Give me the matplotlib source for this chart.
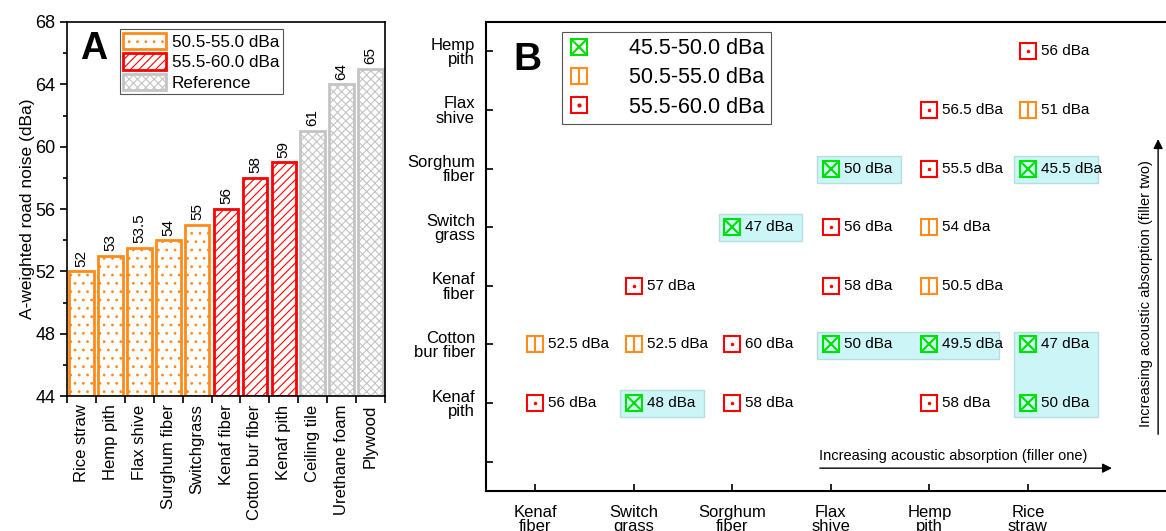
import matplotlib
matplotlib.use("Agg")
import matplotlib.pyplot as plt
from matplotlib.patches import Patch, Rectangle
from matplotlib.lines import Line2D
from matplotlib.legend_handler import HandlerTuple

plt.rcParams['font.family'] = ['Liberation Sans', 'DejaVu Sans']
plt.rcParams['hatch.linewidth'] = 0.8

# --- panel A data ---
materials = ["Rice straw", "Hemp pith", "Flax shive", "Surghum fiber", "Switchgrass",
             "Kenaf fiber", "Cotton bur fiber", "Kenaf pith", "Ceiling tile",
             "Urethane foam", "Plywood"]
noise = [52, 53, 53.5, 54, 55, 56, 58, 59, 61, 64, 65]
noise_labels = ["52", "53", "53.5", "54", "55", "56", "58", "59", "61", "64", "65"]
groups = ["mid", "mid", "mid", "mid", "mid", "high", "high", "high", "ref", "ref", "ref"]

# --- panel B data ---
filler_one = ["Kenaf\nfiber", "Switch\ngrass", "Sorghum\nfiber", "Flax\nshive", "Hemp\npith", "Rice\nstraw"]
filler_two = ["", "Kenaf\npith", "Cotton\nbur fiber", "Kenaf\nfiber", "Switch\ngrass",
              "Sorghum\nfiber", "Flax\nshive", "Hemp\npith"]
combo_x = [6, 5, 6, 4, 5, 6, 3, 4, 5, 2, 4, 5, 1, 2, 3, 4, 5, 6, 1, 2, 3, 5, 6]
combo_y = [7, 6, 6, 5, 5, 5, 4, 4, 4, 3, 3, 3, 2, 2, 2, 2, 2, 2, 1, 1, 1, 1, 1]
combo_db = [56, 56.5, 51, 50, 55.5, 45.5, 47, 56, 54, 57, 58, 50.5,
            52.5, 52.5, 60, 50, 49.5, 47, 56, 48, 58, 58, 50]
# shaded groups of best combinations: (x_first, x_last, y_low, y_high)
best_groups = [(4, 4, 5, 5), (6, 6, 5, 5), (3, 3, 4, 4), (4, 5, 2, 2), (6, 6, 1, 2), (2, 2, 1, 1)]

ORANGE = "#FF8C1A"
RED = "#FF0000"
GRAY = "#C4C4C4"
GREEN = "#00E000"

style_a = {
    "mid": dict(edgecolor=ORANGE, hatch=".."),
    "high": dict(edgecolor=RED, hatch="////"),
    "ref": dict(edgecolor=GRAY, hatch="xxxx"),
}

fig = plt.figure(figsize=(11.66, 5.31), dpi=100)

# ================= Panel A =================
ax = fig.add_axes([0.0575, 0.254, 0.2727, 0.7046])
xs = list(range(len(materials)))
for x, v, g, lab in zip(xs, noise, groups, noise_labels):
    ax.bar(x, v - 44, bottom=44, width=0.85, facecolor="white", linewidth=2, **style_a[g])
    ax.text(x, v + 0.3, lab, rotation=90, ha="center", va="bottom", fontsize=11)

ax.set_xlim(-0.5, len(materials) - 0.5)
ax.set_ylim(44, 68)
ax.set_yticks(range(44, 69, 4))
ax.set_yticks(range(46, 68, 4), minor=True)
ax.set_xticks([x - 0.5 for x in range(len(materials) + 1)])
ax.set_xticklabels([])
ax.set_xticks(xs, minor=True)
ax.set_xticklabels(materials, minor=True, rotation=90, fontsize=12)
ax.tick_params(axis="x", which="minor", length=0, pad=6)
ax.tick_params(axis="x", which="major", length=5, width=1.2)
ax.tick_params(axis="y", which="major", length=5, width=1.2, labelsize=13)
ax.tick_params(axis="y", which="minor", length=3, width=1.2)
for s in ax.spines.values():
    s.set_linewidth(1.2)
ax.set_ylabel("A-weighted road noise (dBa)", fontsize=12.5, labelpad=0)
ax.text(0.04, 0.975, "A", transform=ax.transAxes, fontsize=27, fontweight="bold", va="top")

leg_handles = [
    Patch(facecolor="white", linewidth=2, **style_a["mid"]),
    Patch(facecolor="white", linewidth=2, **style_a["high"]),
    Patch(facecolor="white", linewidth=2, **style_a["ref"]),
]
leg = ax.legend(leg_handles, ["50.5-55.0 dBa", "55.5-60.0 dBa", "Reference"],
                loc="upper left", bbox_to_anchor=(0.165, 0.98), fontsize=12.3,
                handlelength=2.5, handleheight=1.1, handletextpad=0.35, labelspacing=0.2,
                borderpad=0.2, borderaxespad=0, fancybox=False, edgecolor="#555555",
                framealpha=1)
leg.get_frame().set_linewidth(0.8)

# ================= Panel B =================
bx = fig.add_axes([0.4168, 0.0753, 0.5832, 0.8833])
bx.set_xlim(0.5, 7.4)
bx.set_ylim(-0.5, 7.5)

for x0, x1, y0, y1 in best_groups:
    bx.add_patch(Rectangle((x0 - 0.14, y0 - 0.24), (x1 - x0) + 0.85, (y1 - y0) + 0.46,
                           facecolor="#CCF5F8", edgecolor="#B5DEDE", linewidth=1, zorder=1))

MS = 11
def markers(ax_, x, y, db):
    if db <= 50:
        ax_.plot(x, y, "s", ms=MS, mfc="none", mec=GREEN, mew=1.5, zorder=3)
        ax_.plot(x, y, "x", ms=MS * 0.95, mec=GREEN, mew=1.5, zorder=3)
    elif db <= 55:
        ax_.plot(x, y, "s", ms=MS, mfc="none", mec=ORANGE, mew=1.5, zorder=3)
        ax_.plot(x, y, "|", ms=MS, mec=ORANGE, mew=1.5, zorder=3)
    else:
        ax_.plot(x, y, "s", ms=MS, mfc="none", mec=RED, mew=1.5, zorder=3)
        ax_.plot(x, y, "o", ms=1.5, mfc=RED, mec=RED, zorder=3)

for x, y, db in zip(combo_x, combo_y, combo_db):
    markers(bx, x, y, db)
    bx.text(x + 0.13, y, f"{db:g} dBa", va="center", ha="left", fontsize=11, zorder=4)

bx.set_xticks(range(1, len(filler_one) + 1))
bx.set_xticklabels(filler_one, fontsize=12, linespacing=0.95)
bx.set_yticks(range(len(filler_two)))
bx.set_yticklabels(filler_two, fontsize=12, linespacing=0.95)
bx.tick_params(axis="both", direction="in", length=5, width=1.2)
bx.tick_params(axis="x", pad=10)
bx.tick_params(axis="y", pad=8)
bx.spines["right"].set_visible(False)
for s in ["left", "top", "bottom"]:
    bx.spines[s].set_linewidth(1.5)

bx.text(0.04, 0.957, "B", transform=bx.transAxes, fontsize=28, fontweight="bold", va="top")

# arrows
bx.annotate("", xy=(6.88, -0.11), xytext=(3.86, -0.11),
            arrowprops=dict(arrowstyle="-|>", color="black", lw=1, mutation_scale=14))
bx.text(3.88, 0.1, "Increasing acoustic absorption (filler one)", fontsize=10.5,
        ha="left", va="center")
bx.annotate("", xy=(7.32, 5.55), xytext=(7.32, 0.42),
            arrowprops=dict(arrowstyle="-|>", color="black", lw=1, mutation_scale=14))
bx.text(7.2, 2.86, "Increasing acoustic absorption (filler two)", fontsize=10.5,
        rotation=90, ha="center", va="center")

def leg_marker(color, inner, inner_ms):
    sq = Line2D([], [], marker="s", ls="none", ms=MS, mfc="none", mec=color, mew=1.5)
    mk = Line2D([], [], marker=inner, ls="none", ms=inner_ms, mfc=color, mec=color, mew=1.5)
    return (sq, mk)

b_handles = [leg_marker(GREEN, "x", MS * 0.95), leg_marker(ORANGE, "|", MS), leg_marker(RED, "o", 1.5)]
bleg = bx.legend(b_handles, ["45.5-50.0 dBa", "50.5-55.0 dBa", "55.5-60.0 dBa"],
                 handler_map={tuple: HandlerTuple(ndivide=1, pad=0)},
                 loc="upper left", bbox_to_anchor=(0.112, 0.979), fontsize=15.5,
                 handlelength=1.0, handletextpad=1.8, labelspacing=0.38,
                 borderpad=0.3, borderaxespad=0, fancybox=False, edgecolor="#555555",
                 framealpha=1)
bleg.get_frame().set_linewidth(0.8)

fig.savefig("out.png", dpi=100)
